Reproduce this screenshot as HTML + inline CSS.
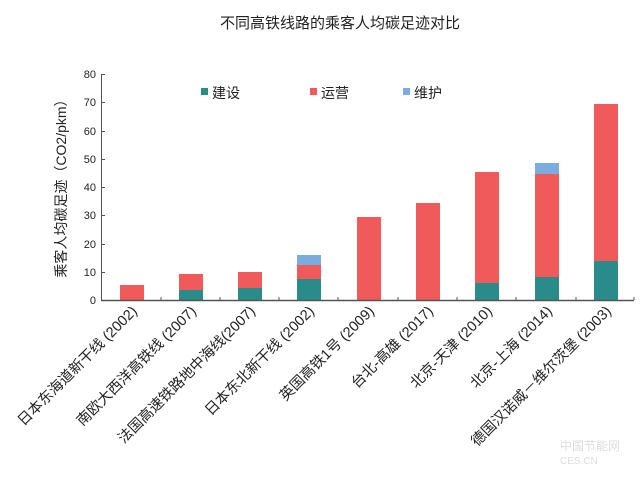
<!DOCTYPE html>
<html><head><meta charset="utf-8"><style>
body{margin:0;background:#fff;}
text{font-family:"Liberation Sans","Noto Sans CJK SC",sans-serif;fill:#222;}
</style></head><body>
<svg width="640" height="478" viewBox="0 0 640 478" xmlns="http://www.w3.org/2000/svg">
<text x="340" y="28" font-size="15" text-anchor="middle" fill="#222">不同高铁线路的乘客人均碳足迹对比</text>
<text transform="translate(66,185) rotate(-90)" font-size="14" text-anchor="middle">乘客人均碳足迹（CO2/pkm）</text>
<g font-size="11" text-anchor="end">
<text x="96" y="304">0</text><text x="96" y="276">10</text><text x="96" y="248">20</text>
<text x="96" y="219">30</text><text x="96" y="191">40</text><text x="96" y="163">50</text>
<text x="96" y="135">60</text><text x="96" y="106">70</text><text x="96" y="78">80</text>
</g>
<line x1="101.5" y1="74" x2="101.5" y2="301" stroke="#555" stroke-width="1"/>
<g stroke="#555"><line x1="101" y1="74.5" x2="105" y2="74.5"/><line x1="101" y1="102.5" x2="105" y2="102.5"/><line x1="101" y1="131.5" x2="105" y2="131.5"/><line x1="101" y1="159.5" x2="105" y2="159.5"/><line x1="101" y1="187.5" x2="105" y2="187.5"/><line x1="101" y1="215.5" x2="105" y2="215.5"/><line x1="101" y1="244.5" x2="105" y2="244.5"/><line x1="101" y1="272.5" x2="105" y2="272.5"/></g>
<g>
<rect x="120" y="285" width="24" height="15" fill="#f05a5a"/>
<rect x="179" y="274" width="24" height="16" fill="#f05a5a"/><rect x="179" y="290" width="24" height="10" fill="#2a8c8a"/>
<rect x="238" y="272" width="24" height="16" fill="#f05a5a"/><rect x="238" y="288" width="24" height="12" fill="#2a8c8a"/>
<rect x="297" y="255" width="24" height="10" fill="#7aace0"/><rect x="297" y="265" width="24" height="14" fill="#f05a5a"/><rect x="297" y="279" width="24" height="21" fill="#2a8c8a"/>
<rect x="357" y="217" width="24" height="83" fill="#f05a5a"/>
<rect x="416" y="203" width="24" height="97" fill="#f05a5a"/>
<rect x="475" y="172" width="24" height="111" fill="#f05a5a"/><rect x="475" y="283" width="24" height="17" fill="#2a8c8a"/>
<rect x="535" y="163" width="24" height="11" fill="#7aace0"/><rect x="535" y="174" width="24" height="103" fill="#f05a5a"/><rect x="535" y="277" width="24" height="23" fill="#2a8c8a"/>
<rect x="594" y="104" width="24" height="157" fill="#f05a5a"/><rect x="594" y="261" width="24" height="39" fill="#2a8c8a"/>
</g>
<line x1="101" y1="300.5" x2="634" y2="300.5" stroke="#555" stroke-width="1.5"/>
<g stroke="#555"><line x1="161" y1="300" x2="161" y2="297"/><line x1="220" y1="300" x2="220" y2="297"/><line x1="279" y1="300" x2="279" y2="297"/><line x1="338" y1="300" x2="338" y2="297"/><line x1="398" y1="300" x2="398" y2="297"/><line x1="457" y1="300" x2="457" y2="297"/><line x1="516" y1="300" x2="516" y2="297"/><line x1="576" y1="300" x2="576" y2="297"/><line x1="634" y1="300" x2="634" y2="297"/></g>
<rect x="201" y="88" width="7" height="7" fill="#2a8c8a"/><text x="212" y="98" font-size="14">建设</text>
<rect x="310" y="88" width="7" height="7" fill="#f05a5a"/><text x="321" y="98" font-size="14">运营</text>
<rect x="403" y="88" width="7" height="7" fill="#7aace0"/><text x="414" y="98" font-size="14">维护</text>
<g font-size="14.5" text-anchor="end">
<text transform="translate(138,312) rotate(-45)">日本东海道新干线 (2002)</text>
<text transform="translate(197,312) rotate(-45)">南欧大西洋高铁线 (2007)</text>
<text transform="translate(256,312) rotate(-45)">法国高速铁路地中海线(2007)</text>
<text transform="translate(315,312) rotate(-45)">日本东北新干线 (2002)</text>
<text transform="translate(375,312) rotate(-45)">英国高铁1号 (2009)</text>
<text transform="translate(434,312) rotate(-45)">台北-高雄 (2017)</text>
<text transform="translate(493,312) rotate(-45)">北京-天津 (2010)</text>
<text transform="translate(553,312) rotate(-45)">北京-上海 (2014)</text>
<text transform="translate(612,312) rotate(-45)">德国汉诺威－维尔茨堡 (2003)</text>
</g>
<text x="560" y="450" font-size="12" style="fill:#ddd">中国节能网</text>
<text x="560" y="464" font-size="10" style="fill:#ddd">CES.CN</text>
</svg>
</body></html>
